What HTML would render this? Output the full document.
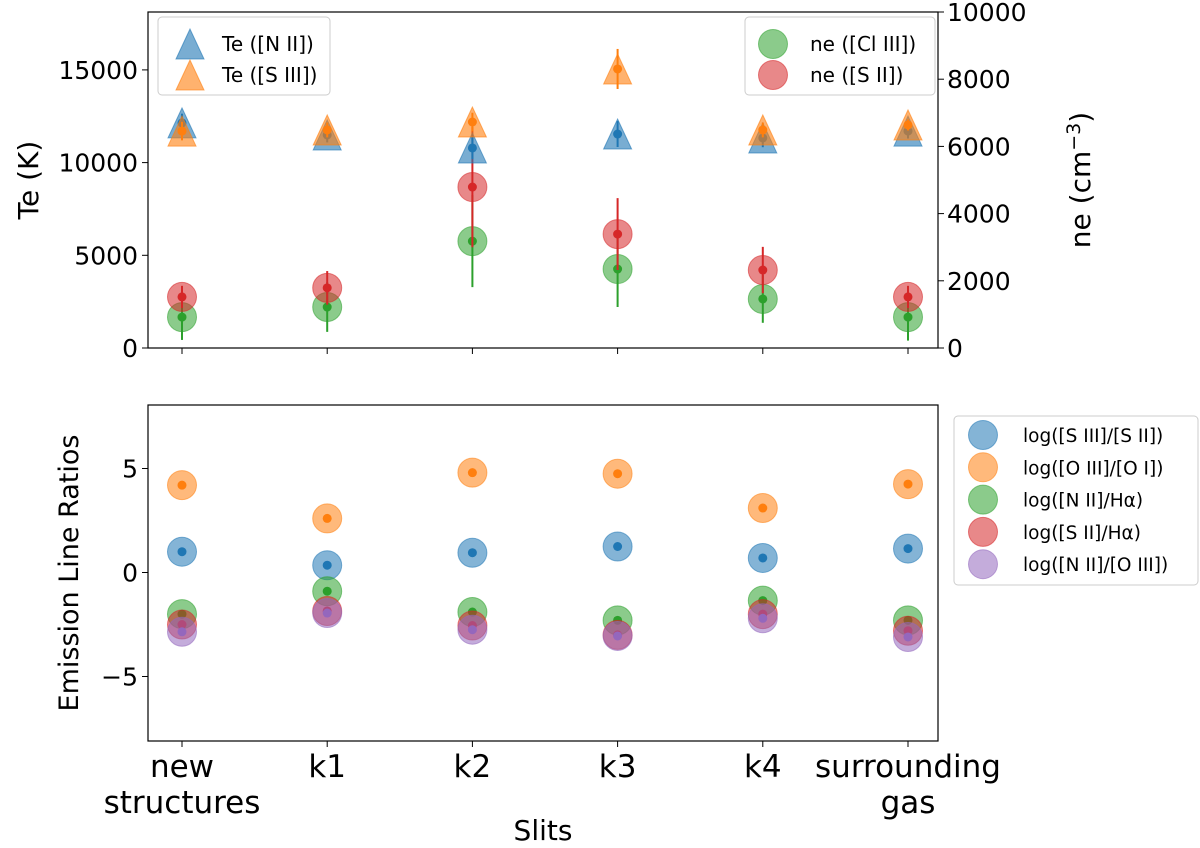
<!DOCTYPE html>
<html><head><meta charset="utf-8"><style>
html,body{margin:0;padding:0;background:#fff;}
svg{display:block;font-family:"DejaVu Sans","Liberation Sans",sans-serif;}
</style></head><body>
<svg id="chart" width="1200" height="848" viewBox="0 0 1200 848"></svg>
<script>
const categories = ["new|structures","k1","k2","k3","k4","surrounding|gas"];
const teNII = [12140,11490,10790,11540,11330,11700];
const teNIIErr = [500,400,600,700,500,400];
const teSIII = [11700,11760,12190,15050,11760,12030];
const teSIIIErr = [500,400,500,1080,400,300];
const neClIII = [920,1220,3180,2350,1460,920];
const neClIIIErr = [680,740,1370,1130,710,700];
const neSII = [1520,1790,4790,3390,2320,1520];
const neSIIErr = [330,500,1790,1070,690,330];
const rSIIISII = [1.0,0.35,0.95,1.25,0.7,1.15];
const rOIIIOI = [4.2,2.6,4.8,4.75,3.1,4.25];
const rNIIHa = [-2.0,-0.9,-1.9,-2.3,-1.35,-2.3];
const rSIIHa = [-2.5,-1.85,-2.55,-3.0,-2.0,-2.8];
const rNIIOIII = [-2.85,-1.95,-2.75,-3.05,-2.2,-3.1];
const teTicks = [0,5000,10000,15000];
const neTicks = [0,2000,4000,6000,8000,10000];
const ratioTicks = [-5,0,5];

const svg = document.getElementById('chart');
const NS = 'http://www.w3.org/2000/svg';
function mk(tag, attrs, parent){const e=document.createElementNS(NS,tag);for(const k in attrs)e.setAttribute(k,attrs[k]);(parent||svg).appendChild(e);return e;}
const L=148,R=938,T1=12,B1=348,T2=405,B2=741;
const xS = i => 182 + i*145.2;
const yTe = v => B1 - v/5000*92.7;
const yNe = v => B1 - v/10000*(B1-T1);
const yR = v => 572.5 - v*20.8;
const C={blue:'#1f77b4',orange:'#ff7f0e',green:'#2ca02c',red:'#d62728',purple:'#9467bd'};

function tri(cx,cy,col,g){return mk('polygon',{points:`${cx},${cy-15} ${cx-14},${cy+15} ${cx+14},${cy+15}`,fill:col,'fill-opacity':0.6,stroke:col,'stroke-opacity':0.6,'stroke-width':1},g);}
function circ(cx,cy,col,g){return mk('circle',{cx,cy,r:14.5,fill:col,'fill-opacity':0.55,stroke:col,'stroke-opacity':0.55},g);}

let f=mk('rect',{x:L,y:T1,width:R-L,height:B1-T1,fill:'none',stroke:'#000','stroke-width':1.2});

f=mk('rect',{x:L,y:T2,width:R-L,height:B2-T2,fill:'none',stroke:'#000','stroke-width':1.2});


teTicks.forEach(v=>{const y=yTe(v);mk('line',{x1:L-6,x2:L,y1:y,y2:y,stroke:'#000'});
 const t=mk('text',{x:L-10,y:y+9,'text-anchor':'end','font-size':25});t.textContent=v;
 });
neTicks.forEach(v=>{const y=yNe(v);mk('line',{x1:R,x2:R+6,y1:y,y2:y,stroke:'#000'});
 const t=mk('text',{x:R+9,y:y+9,'font-size':25});t.textContent=v;
 });
ratioTicks.forEach(v=>{const y=yR(v);mk('line',{x1:L-6,x2:L,y1:y,y2:y,stroke:'#000'});
 const t=mk('text',{x:L-10,y:y+9,'text-anchor':'end','font-size':25});t.textContent=v===-5?'\u22125':v;
 });
categories.forEach((c,i)=>{const x=xS(i);
 mk('line',{x1:x,x2:x,y1:B1,y2:B1+6,stroke:'#000'});mk('line',{x1:x,x2:x,y1:B2,y2:B2+6,stroke:'#000'});
 c.split('|').forEach((s,j)=>{const t=mk('text',{x:x,y:777+j*36,'text-anchor':'middle','font-size':31});t.textContent=s;
 });});

let t=mk('text',{x:0,y:0,'font-size':28,'text-anchor':'middle',transform:`translate(38,${(T1+B1)/2}) rotate(-90)`});t.textContent='Te (K)';

t=mk('text',{x:0,y:0,'font-size':28,'text-anchor':'middle',transform:`translate(1090,${(T1+B1)/2}) rotate(-90)`});
t.innerHTML='ne (cm<tspan dy="-10" font-size="19">\u22123</tspan><tspan dy="10">)</tspan>';

t=mk('text',{x:0,y:0,'font-size':27,'text-anchor':'middle',transform:`translate(78,${(T2+B2)/2}) rotate(-90)`});t.textContent='Emission Line Ratios';

t=mk('text',{x:(L+R)/2,y:840,'font-size':28,'text-anchor':'middle'});t.textContent='Slits';


function errSeries(vals,errs,ys,col,shape,name){
 const g=mk('g',{});
 vals.forEach((v,i)=>{const x=xS(i);
  if(shape==='tri')tri(x,ys(v),col,g);else circ(x,ys(v),col,g);
  mk('line',{x1:x,x2:x,y1:ys(v-errs[i]),y2:ys(v+errs[i]),stroke:col,'stroke-width':2},g);
  mk('circle',{cx:x,cy:ys(v),r:4.5,fill:col},g);});
}
errSeries(neClIII,neClIIIErr,yNe,C.green,'c','ne-cliii-series');
errSeries(neSII,neSIIErr,yNe,C.red,'c','ne-sii-series');
errSeries(teNII,teNIIErr,yTe,C.blue,'tri','te-nii-series');
errSeries(teSIII,teSIIIErr,yTe,C.orange,'tri','te-siii-series');

[[rSIIISII,C.blue,'ratio-siii-sii'],[rOIIIOI,C.orange,'ratio-oiii-oi'],[rNIIHa,C.green,'ratio-nii-ha'],[rSIIHa,C.red,'ratio-sii-ha'],[rNIIOIII,C.purple,'ratio-nii-oiii']].forEach(([vals,col,name])=>{
 const g=mk('g',{});
 vals.forEach((v,i)=>{circ(xS(i),yR(v),col,g);mk('circle',{cx:xS(i),cy:yR(v),r:4.5,fill:col},g);});
});

function legendBox(x,y,w,h,name){const r=mk('rect',{x,y,width:w,height:h,rx:4,fill:'#fff','fill-opacity':0.8,stroke:'#ccc'});
 }
legendBox(158,17,172,78,'top-left-legend');
[['Te ([N II])',C.blue],['Te ([S III])',C.orange]].forEach(([s,c],i)=>{const y=44+i*31;tri(190,y,c);
 const tt=mk('text',{x:222,y:y+7,'font-size':20});tt.textContent=s;});
legendBox(745,17,190,78,'top-right-legend');
[['ne ([Cl III])',C.green],['ne ([S II])',C.red]].forEach(([s,c],i)=>{const y=44+i*31;circ(773,y,c);
 const tt=mk('text',{x:810,y:y+7,'font-size':20});tt.textContent=s;});
legendBox(954,416,244,169,'ratio-legend');
[['log([S III]/[S II])',C.blue],['log([O III]/[O I])',C.orange],['log([N II]/H\u03b1)',C.green],['log([S II]/H\u03b1)',C.red],['log([N II]/[O III])',C.purple]].forEach(([s,c],i)=>{const y=435+i*32.3;circ(983,y,c);
 const tt=mk('text',{x:1023,y:y+7,'font-size':18.5});tt.textContent=s;});
</script>
</body></html>
